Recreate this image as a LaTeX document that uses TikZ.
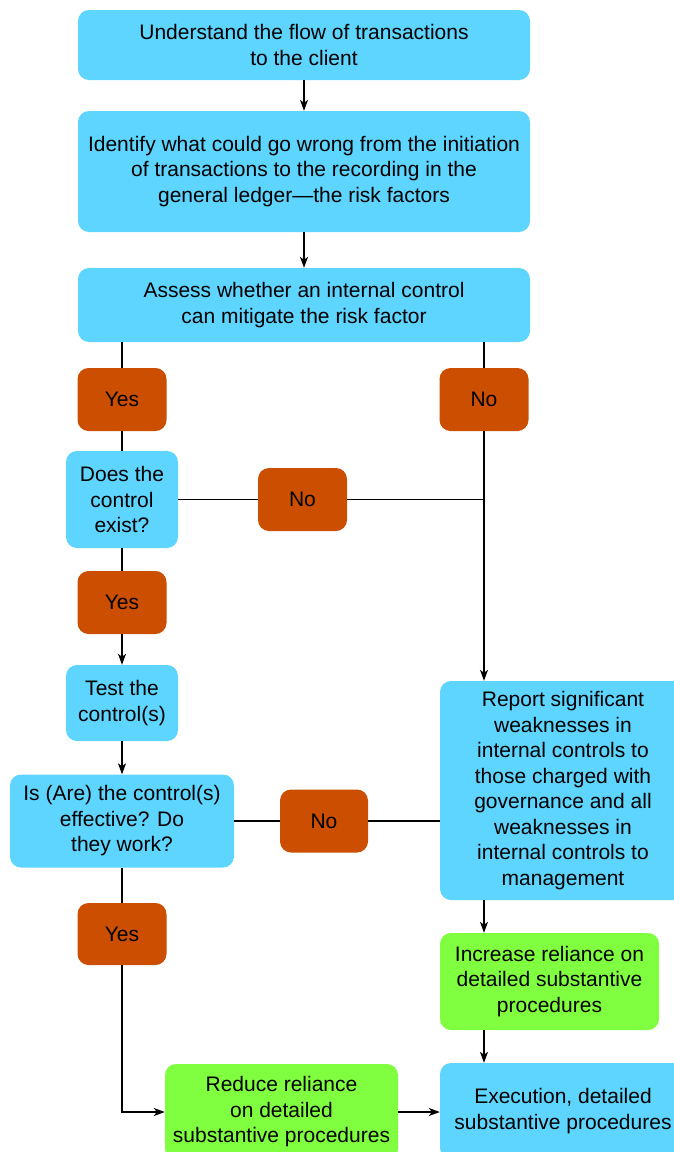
\documentclass[tikz,border=0pt]{standalone}
\usepackage{fontspec}
\setmainfont{Liberation Sans}
\usetikzlibrary{arrows.meta}
\definecolor{stepblue}{RGB}{93,213,255}
\definecolor{answerorange}{RGB}{204,78,0}
\definecolor{relygreen}{RGB}{128,255,64}
\begin{document}
\begin{tikzpicture}[x=1pt,y=-1pt,
  box/.style={rounded corners=11pt, inner sep=0pt, align=center,
    font=\fontsize{21}{25.5}\selectfont},
  stepbox/.style={box, fill=stepblue},
  answer/.style={box, fill=answerorange, minimum width=89pt, minimum height=63pt},
  relybox/.style={box, fill=relygreen},
  link/.style={line width=1.2pt},
  flow/.style={link, -{Stealth[length=11pt,width=8pt,inset=3pt]}}]
\useasboundingbox (0,0) rectangle (674,1152);
\clip (0,0) rectangle (674,1152);

% main sequence
\node[stepbox, minimum width=452pt, minimum height=70pt] (flow) at (304,45)
  {Understand the flow of transactions\\to the client};
\node[stepbox, minimum width=452pt, minimum height=121pt] (ident) at (304,171.5)
  {Identify what could go wrong from the initiation\\of transactions to the recording in the\\general ledger---the risk factors};
\node[stepbox, minimum width=452pt, minimum height=74pt] (assess) at (304,305)
  {Assess whether an internal control\\can mitigate the risk factor};

% left branch
\node[answer] (yes1) at (122,399.5) {Yes};
\node[stepbox, minimum width=112pt, minimum height=97pt] (exist) at (122,499.5)
  {Does the\\control\\exist?};
\node[answer] (yes2) at (122,602.5) {Yes};
\node[stepbox, minimum width=112pt, minimum height=76pt] (test) at (122,703)
  {Test the\\control(s)};
\node[stepbox, minimum width=224pt, minimum height=93pt] (effective) at (122,821)
  {Is (Are) the control(s)\\effective? Do\\they work?};
\node[answer, minimum height=62pt] (yes3) at (122,934) {Yes};

% right branch
\node[answer] (no1) at (484,399.5) {No};
\node[answer] (no2) at (302.5,499.5) {No};
\node[answer, minimum width=88pt] (no3) at (324,821) {No};
\node[stepbox, minimum width=246pt, minimum height=219pt] (report) at (563,790.5)
  {Report significant\\weaknesses in\\internal controls to\\those charged with\\governance and all\\weaknesses in\\internal controls to\\management};
\node[relybox, minimum width=219pt, minimum height=97pt] (increase) at (549.5,981.5)
  {Increase reliance on\\detailed substantive\\procedures};

% bottom row
\node[relybox, minimum width=233pt, minimum height=96pt] (reduce) at (281.5,1112)
  {Reduce reliance\\on detailed\\substantive procedures};
\node[stepbox, minimum width=246pt, minimum height=96pt] (exec) at (563,1111)
  {Execution, detailed\\substantive procedures};

% connectors
\draw[flow] (flow) -- (ident);
\draw[flow] (ident) -- (assess);

\draw[link] (assess.south -| yes1.north) -- (yes1.north);
\draw[link] (yes1) -- (exist);
\draw[link] (exist) -- (yes2);
\draw[flow] (yes2) -- (test);
\draw[flow] (test) -- (effective);
\draw[link] (effective) -- (yes3);
\draw[flow] (yes3.south) |- (reduce.west);
\draw[flow] (reduce.east) -- (reduce.east -| exec.west);

\draw[link] (assess.south -| no1.north) -- (no1.north);
\coordinate (junction) at (no2.east -| no1.south);
\draw[flow] (no1.south) -- (no1.south |- report.north);
\draw[link] (exist) -- (no2);
\draw[link] (no2.east) -- (junction);
\draw[link] (effective) -- (no3);
\draw[link] (no3.east) -- (no3.east -| report.west);
\draw[flow] (report.south -| no1.south) -- (increase.north -| no1.south);
\draw[flow] (increase.south -| no1.south) -- (exec.north -| no1.south);
\end{tikzpicture}
\end{document}
